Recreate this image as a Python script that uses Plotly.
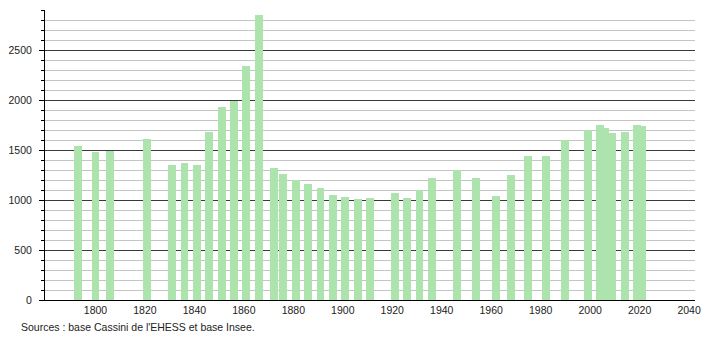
import plotly.graph_objects as go

years = [1793, 1800, 1806, 1821, 1831, 1836, 1841, 1846, 1851, 1856, 1861, 1866,
         1872, 1876, 1881, 1886, 1891, 1896, 1901, 1906, 1911, 1921, 1926, 1931,
         1936, 1946, 1954, 1962, 1968, 1975, 1982, 1990, 1999, 2004, 2006, 2009,
         2014, 2019, 2021]
population = [1540, 1480, 1490, 1610, 1350, 1370, 1350, 1680, 1930, 1995, 2340, 2850,
              1320, 1260, 1200, 1160, 1120, 1050, 1030, 1010, 1020, 1070, 1020, 1100,
              1220, 1300, 1220, 1040, 1250, 1440, 1440, 1600, 1700, 1750, 1720, 1670,
              1680, 1750, 1740]
x_ticks = [1800, 1820, 1840, 1860, 1880, 1900, 1920, 1940, 1960, 1980, 2000, 2020, 2040]
x_tick_labels = [str(v) for v in x_ticks]
y_ticks = [0, 500, 1000, 1500, 2000, 2500]
y_tick_labels = [str(v) for v in y_ticks]
source_text = "Sources : base Cassini de l'EHESS et base Insee."

fig = go.Figure()
fig.add_trace(go.Bar(
    x=years, y=population, width=3.2,
    marker=dict(color="rgb(173,228,173)", line=dict(width=0)),
    hoverinfo="x+y",
))

font = dict(family="Liberation Sans, Arial, sans-serif", size=10.5, color="#222")

fig.update_layout(
    width=710, height=340,
    margin=dict(l=44, r=9, t=10, b=40),
    paper_bgcolor="white", plot_bgcolor="white",
    showlegend=False,
    font=font,
    bargap=0,
    xaxis=dict(
        range=[1779.6, 2042.4],
        tickvals=x_ticks, ticktext=x_tick_labels,
        showgrid=False, zeroline=False,
        showline=True, linecolor="black", linewidth=1,
        ticks="", tickfont=font,
    ),
    yaxis=dict(
        range=[0, 2900],
        tickvals=y_ticks, ticktext=y_tick_labels,
        showgrid=True, gridcolor="#3a3a3a", gridwidth=1,
        zeroline=False,
        showline=True, linecolor="black", linewidth=1,
        ticks="outside", ticklen=5, tickcolor="black", tickwidth=1,
        ticklabelstandoff=5,
        tickfont=font,
        minor=dict(dtick=100, tick0=0, showgrid=True, gridcolor="#c4c4c4",
                   gridwidth=1, ticks="outside", ticklen=3, tickcolor="black"),
        layer="below traces",
    ),
    annotations=[dict(
        text=source_text, xref="paper", yref="paper",
        x=-26/657, y=-27/290, xanchor="left", yanchor="middle",
        showarrow=False, font=font,
    )],
)

fig.write_html("out.html")
